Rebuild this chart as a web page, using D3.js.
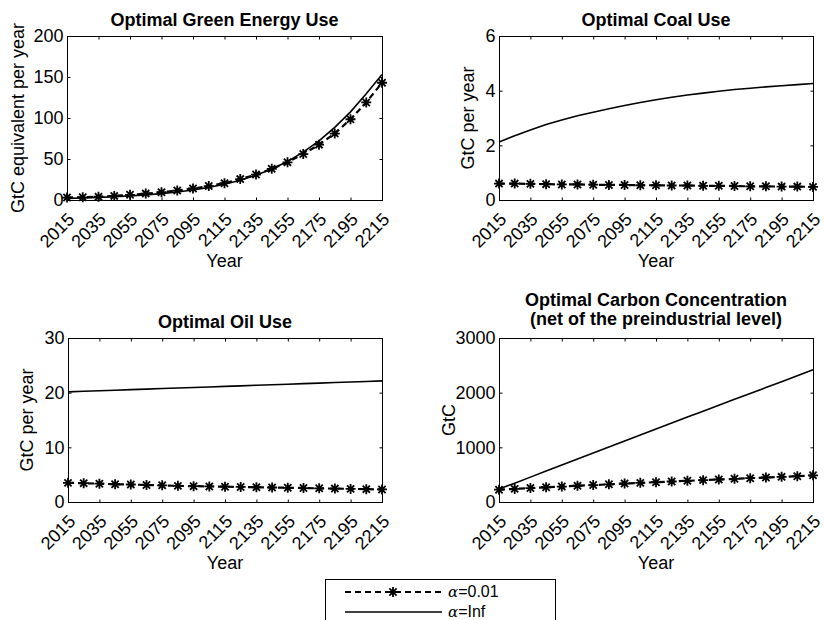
<!DOCTYPE html>
<html><head><meta charset="utf-8">
<script src="https://cdn.jsdelivr.net/npm/d3@7"></script>
<style>
body{margin:0;background:#fff}
svg{font-family:"Liberation Sans",Arial,Helvetica,sans-serif}
</style>
</head><body>
<svg id="c" width="824" height="620"></svg>
<script>
const years = [2015,2025,2035,2045,2055,2065,2075,2085,2095,2105,2115,2125,2135,2145,2155,2165,2175,2185,2195,2205,2215];
const xTickValues = [2015,2035,2055,2075,2095,2115,2135,2155,2175,2195,2215];

const greenInf = [2.0,2.5,3.2,4.0,5.0,6.3,7.8,9.7,12.2,15.4,19.3,24.2,30.3,37.8,47.0,58.3,72.0,88.5,107.5,129.5,153.0];
const greenA   = [3.0,3.3,4.0,5.0,6.3,7.8,9.5,11.5,14.0,17.0,20.5,25.5,31.0,38.0,46.0,56.0,67.5,81.0,98.5,119.0,143.0];
const coalInf  = [2.12,2.35,2.56,2.76,2.93,3.08,3.21,3.34,3.46,3.57,3.67,3.76,3.84,3.91,3.98,4.04,4.09,4.14,4.18,4.22,4.26];
const coalA    = [0.60,0.60,0.59,0.58,0.57,0.57,0.56,0.55,0.55,0.54,0.54,0.53,0.53,0.52,0.52,0.51,0.50,0.50,0.49,0.49,0.48];
const oilInf   = [20.15,20.25,20.35,20.45,20.55,20.65,20.75,20.85,20.95,21.05,21.15,21.25,21.35,21.45,21.55,21.65,21.75,21.85,21.95,22.05,22.15];
const oilA     = [3.5,3.45,3.35,3.25,3.2,3.1,3.05,2.95,2.9,2.85,2.8,2.75,2.7,2.65,2.6,2.55,2.5,2.45,2.4,2.35,2.3];
const carbInf  = [240,345,455,565,675,785,895,1005,1115,1225,1335,1445,1555,1662,1770,1878,1985,2093,2200,2310,2420];
const carbA    = [225,240,255,270,283,297,310,324,338,350,362,375,388,400,412,424,436,448,460,472,488];

const greenYTicks = [0,50,100,150,200];
const coalYTicks = [0,2,4,6];
const oilYTicks = [0,10,20,30];
const carbYTicks = [0,1000,2000,3000];

const legendLabels = ["0.01","Inf"];

const panels = [
  {title:["Optimal Green Energy Use"], ylabel:"GtC equivalent per year", yDomain:[0,200], yTicks:greenYTicks, inf:greenInf, a:greenA,
   box:{l:67,r:382,t:36,b:200}, titleY:[26], ylabelX:24},
  {title:["Optimal Coal Use"], ylabel:"GtC per year", yDomain:[0,6], yTicks:coalYTicks, inf:coalInf, a:coalA,
   box:{l:499,r:813,t:36,b:200}, titleY:[26], ylabelX:474},
  {title:["Optimal Oil Use"], ylabel:"GtC per year", yDomain:[0,30], yTicks:oilYTicks, inf:oilInf, a:oilA,
   box:{l:68,r:382,t:338,b:502}, titleY:[328], ylabelX:33},
  {title:["Optimal Carbon Concentration","(net of the preindustrial level)"], ylabel:"GtC", yDomain:[0,3000], yTicks:carbYTicks, inf:carbInf, a:carbA,
   box:{l:499,r:813,t:338,b:502}, titleY:[306,325], ylabelX:455}
];

const svg = d3.select("#c");
const FS = 18;

function starPath(r){
  const d = r*0.72;
  return `M${-r},0L${r},0M0,${-r}L0,${r}M${-d},${-d}L${d},${d}M${-d},${d}L${d},${-d}`;
}

panels.forEach(p => {
  const {l,r,t,b} = p.box;
  const x = d3.scaleLinear().domain([2015,2215]).range([l,r]);
  const y = d3.scaleLinear().domain(p.yDomain).range([b,t]);
  const g = svg.append("g");

  const line = d3.line().x((d,i)=>x(years[i])).y(d=>y(d));
  g.append("path").datum(p.inf).attr("d",line).attr("fill","none").attr("stroke","#000").attr("stroke-width",1.6);
  g.append("path").datum(p.a).attr("d",line).attr("fill","none").attr("stroke","#000").attr("stroke-width",2.2).attr("stroke-dasharray","6,4");
  g.selectAll(".star").data(p.a).enter().append("path")
    .attr("transform",(d,i)=>`translate(${x(years[i])},${y(d)})`)
    .attr("d",starPath(5)).attr("stroke","#000").attr("stroke-width",1.8).attr("fill","none");

  g.append("rect").attr("x",l+0.5).attr("y",t+0.5).attr("width",r-l).attr("height",b-t)
    .attr("fill","none").attr("stroke","#000").attr("stroke-width",1);

  const xb = g.append("g").attr("transform",`translate(0,${b+0.5})`)
    .call(d3.axisBottom(x).tickValues(xTickValues).tickSizeInner(-3).tickSizeOuter(0).tickFormat(""));
  const xt = g.append("g").attr("transform",`translate(0,${t+0.5})`)
    .call(d3.axisTop(x).tickValues(xTickValues).tickSizeInner(-3).tickSizeOuter(0).tickFormat(""));
  const yl = g.append("g").attr("transform",`translate(${l+0.5},0)`)
    .call(d3.axisLeft(y).tickValues(p.yTicks).tickSizeInner(-3).tickSizeOuter(0).tickPadding(6).tickFormat(d3.format("d")));
  const yr = g.append("g").attr("transform",`translate(${r+0.5},0)`)
    .call(d3.axisRight(y).tickValues(p.yTicks).tickSizeInner(-3).tickSizeOuter(0).tickFormat(""));
  [xb,xt,yl,yr].forEach(a=>{a.select(".domain").remove(); a.selectAll("line").attr("stroke","#000");});
  yl.selectAll("text").attr("font-size",FS).attr("fill","#000").attr("font-family",null).attr("x",-4);

  g.selectAll(".xtl").data(xTickValues).enter().append("text")
    .attr("transform",d=>`translate(${x(d)},${b+12}) rotate(-45)`)
    .attr("x",0).attr("y",12).attr("text-anchor","end").attr("font-size",FS).text(d=>d);

  g.append("text").attr("x",(l+r)/2).attr("y",b+67).attr("text-anchor","middle").attr("font-size",FS).text("Year");
  g.append("text").attr("transform",`translate(${p.ylabelX},${(t+b)/2}) rotate(-90)`)
    .attr("text-anchor","middle").attr("font-size",FS).text(p.ylabel);
  p.title.forEach((s,i)=>{
    g.append("text").attr("x",(l+r)/2).attr("y",p.titleY[i]).attr("text-anchor","middle")
      .attr("font-size",FS).attr("font-weight","bold").text(s);
  });
});

const lg = svg.append("g");
lg.append("rect").attr("x",325.5).attr("y",579.5).attr("width",230).attr("height",60)
  .attr("fill","#fff").attr("stroke","#000").attr("stroke-width",1);
const rows = [592,612];
lg.append("line").attr("x1",345).attr("x2",442).attr("y1",rows[0]).attr("y2",rows[0])
  .attr("stroke","#000").attr("stroke-width",2.2).attr("stroke-dasharray","6,4");
lg.append("path").attr("transform",`translate(393,${rows[0]})`).attr("d",starPath(5))
  .attr("stroke","#000").attr("stroke-width",1.8).attr("fill","none");
lg.append("line").attr("x1",345).attr("x2",442).attr("y1",rows[1]).attr("y2",rows[1])
  .attr("stroke","#000").attr("stroke-width",1.6);
legendLabels.forEach((s,i)=>{
  const tx = lg.append("text").attr("x",448).attr("y",rows[i]+5).attr("font-size",16);
  tx.append("tspan").attr("font-style","italic").attr("font-family","'DejaVu Serif','Liberation Serif',serif").attr("font-size",15).text("α");
  tx.append("tspan").text("="+s);
});
</script>
</body></html>
